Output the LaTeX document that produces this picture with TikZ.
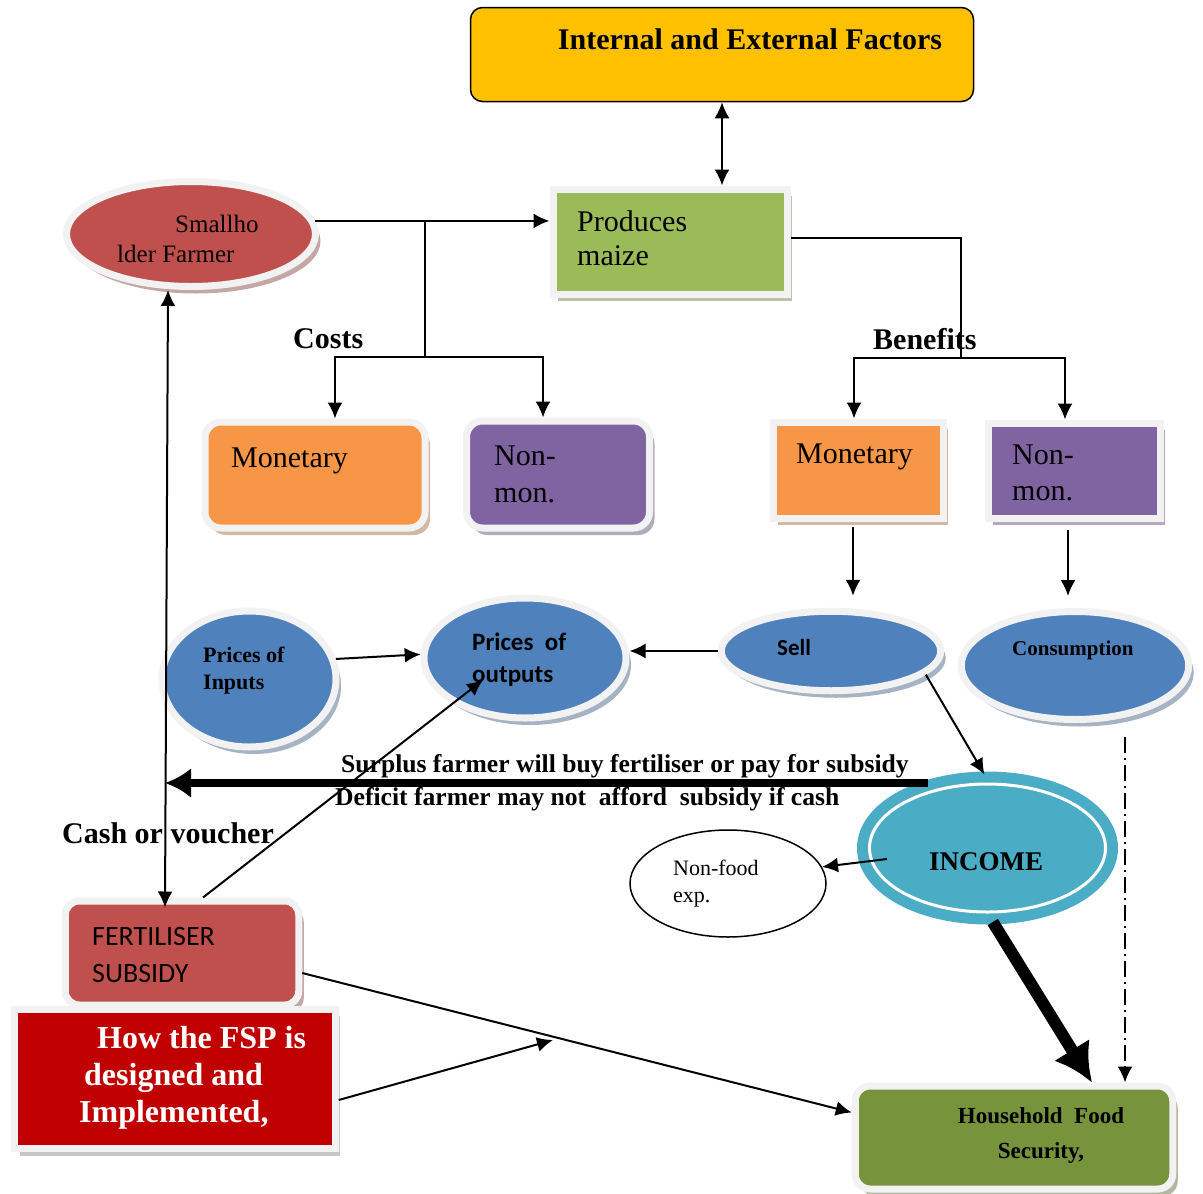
\documentclass[tikz,border=0pt]{standalone}
\usepackage{fontspec}
\setmainfont{Liberation Serif}
\newfontfamily\calfont{Carlito}
\usetikzlibrary{arrows.meta,shapes.geometric,shadows}

\definecolor{gold}{HTML}{FFC000}
\definecolor{leaf}{HTML}{9BBB59}
\definecolor{brick}{HTML}{C0504D}
\definecolor{peach}{HTML}{F79646}
\definecolor{plum}{HTML}{8064A2}
\definecolor{steel}{HTML}{4F81BD}
\definecolor{aqua}{HTML}{4BACC6}
\definecolor{moss}{HTML}{77933C}
\definecolor{crimson}{HTML}{C00000}
\definecolor{frame}{HTML}{F2F2F2}

\tikzset{
  boxed/.style={draw=frame, line width=7pt,
    drop shadow={shadow xshift=5pt, shadow yshift=-7pt, fill=#1, opacity=1}},
  box/.style={fill=#1, boxed=#1!45!gray!60!white},
  oval/.style={ellipse, box=#1},
  txt/.style={inner sep=0pt, align=left, anchor=base west},
  link/.style={line width=2pt},
  heavy/.style={line width=8pt, -{Latex[length=26pt,width=30pt]}},
  >={Latex[length=16pt,width=15pt]}
}

\begin{document}
\begin{tikzpicture}[x=1pt,y=-1pt]
\useasboundingbox (0,0) rectangle (1203,1194);

% Top
\node[draw, line width=1.5pt, rounded corners=12pt, fill=gold,
  minimum width=503, minimum height=94] (ief) at (722,54.5) {};
\node[txt, anchor=base, font=\bfseries\fontsize{30}{36}\selectfont]
  (ief-t) at (750,49) {Internal and External Factors};

\node[box=leaf, minimum width=234, minimum height=105] (maize) at (670,241.5) {};
\node[txt, font=\fontsize{30}{34}\selectfont]
  (maize-t) at (577,265) {Produces\\maize};

\node[oval=brick, minimum width=249, minimum height=105] (farmer) at (191,234) {};
\node[txt, font=\fontsize{25}{30}\selectfont]
  (farmer-t) at (117,262) {\hspace*{58pt}Smallho\\lder Farmer};

% Costs and benefits
\node[txt, font=\bfseries\fontsize{30}{36}\selectfont] (costs) at (293,348) {Costs};
\node[txt, font=\bfseries\fontsize{30}{36}\selectfont] (benefits) at (873,349) {Benefits};

\node[box=peach, rounded corners=16pt, minimum width=220, minimum height=106] (cmon) at (315,475) {};
\node[txt, font=\fontsize{30}{36}\selectfont] (cmon-t) at (231,467) {Monetary};

\node[box=plum, rounded corners=16pt, minimum width=183, minimum height=107] (cnon) at (558,474.5) {};
\node[txt, font=\fontsize{30}{37}\selectfont] (cnon-t) at (494,502) {Non-\\mon.};

\node[box=peach, minimum width=170, minimum height=96] (bmon) at (858,470) {};
\node[txt, font=\fontsize{30}{36}\selectfont] (bmon-t) at (796,463) {Monetary};

\node[box=plum, minimum width=172, minimum height=95] (bnon) at (1074,470.5) {};
\node[txt, font=\fontsize{30}{36}\selectfont] (bnon-t) at (1012,500) {Non-\\mon.};

% Prices, sell, consumption
\node[oval=steel, minimum width=174, minimum height=136] (pin) at (249,679) {};
\node[txt, font=\bfseries\fontsize{22}{27}\selectfont] (pin-t) at (203,689) {Prices of\\Inputs};

\node[oval=steel, minimum width=202, minimum height=120] (pout) at (525,658) {};
\node[txt, font=\calfont\bfseries\fontsize{25}{32}\selectfont] (pout-t) at (472,682) {Prices\ \ of\\outputs};

\node[oval=steel, minimum width=219.5, minimum height=79.5] (sell) at (831,651) {};
\node[txt, font=\calfont\bfseries\fontsize{23}{28}\selectfont] (sell-t) at (777,655) {Sell};

\node[oval=steel, minimum width=227.5, minimum height=108] (cons) at (1075,665.5) {};
\node[txt, font=\bfseries\fontsize{21}{26}\selectfont] (cons-t) at (1012,655) {Consumption};

% Income
\node[ellipse, fill=aqua, draw=white, line width=3pt, minimum width=236, minimum height=128,
  preaction={draw=aqua, line width=25pt}] (inc) at (987.5,848) {};
\node[txt, font=\bfseries\fontsize{27}{32}\selectfont] (inc-t) at (929,870) {INCOME};

\node[ellipse, draw, line width=1.5pt, minimum width=196, minimum height=107] (nf) at (728,883.5) {};
\node[txt, font=\fontsize{22}{27}\selectfont] (nf-t) at (673,902) {Non-food\\exp.};

% Subsidy
\node[box=brick, rounded corners=14pt, minimum width=233.5, minimum height=104] (fert) at (182,953) {};
\node[txt, font=\calfont\fontsize{28}{37}\selectfont] (fert-t) at (92,982) {FERTILISER\\SUBSIDY};

\node[fill=crimson, boxed=black!22, minimum width=320.5, minimum height=139.5] (fsp) at (175,1079) {};
\node[txt, text=white, font=\bfseries\fontsize{32}{37}\selectfont]
  (fsp-t) at (79,1122) {\hspace*{18pt}How the FSP is\\\hspace*{5pt}designed and\\Implemented,};

\node[box=moss, rounded corners=15pt, minimum width=317.5, minimum height=103] (hfs) at (1014,1137.5) {};
\node[txt, anchor=base, align=center, font=\bfseries\fontsize{23}{35}\selectfont]
  (hfs-t) at (1041,1158) {Household\ \ Food\\Security,};

% Links
\draw[link,<->] (ief.south) -- (ief.south |- maize.north);

\draw[link,->] (farmer.6) -- (farmer.6 -| maize.west);

\coordinate (csplit) at (425,0 |- farmer.6);
\coordinate (cbar) at (425,357);
\draw[link] (csplit) -- (cbar);
\draw[link,->] (cbar) -| ([xshift=20]cmon.north);
\draw[link,->] (cbar) -| ([xshift=-15]cnon.north);

\coordinate (bbar) at (961,358);
\draw[link] ([yshift=4]maize.east) -| (bbar);
\draw[link,->] (bbar) -| ([xshift=-4]bmon.north);
\draw[link,->] (bbar) -| ([xshift=-9]bnon.north);

\draw[link,->,shorten <=5pt,shorten >=12pt]
  ([xshift=-5]bmon.south) -- ([xshift=-5]bmon.south |- sell.north);
\draw[link,->,shorten <=8pt,shorten >=12pt]
  ([xshift=-6]bnon.south) -- ([xshift=-6]bnon.south |- cons.north);

\draw[link,->] (sell.west) -- (sell.west -| pout.east);
\draw[link,->] (pin.13) -- (pout.178);
\draw[link,->] (sell.-14) -- ([xshift=-3,yshift=8]inc.north);

% Farmer and subsidy
\coordinate (sptop) at ([xshift=-23]farmer.south);
\coordinate (spbot) at ([xshift=-17,yshift=-10]fert.north);
\draw[link,<->] (sptop) -- (spbot);

\coordinate (cashfrom) at ([xshift=-60,yshift=65]inc.center);
\draw[heavy] (cashfrom) -- (cashfrom -| spbot);
\node[txt, font=\bfseries\fontsize{25.6}{30}\selectfont]
  (surplus) at (341,772) {Surplus farmer will buy fertiliser or pay for subsidy};
\node[txt, font=\bfseries\fontsize{25.6}{30}\selectfont]
  (deficit) at (335,805) {Deficit farmer may not\ \ afford\ \ subsidy if cash};
\node[txt, font=\bfseries\fontsize{30}{36}\selectfont] (cash) at (62,843) {Cash or voucher};

\draw[link,->] ([xshift=21]fert.north) -- ([xshift=-42,yshift=-22]pout.center);
\draw[link,->] ([yshift=-20]fert.east) -- ([yshift=25]hfs.west);

\coordinate (fspto) at (553,1040);
\draw[link,->] ([yshift=-21]fsp.east) -- (fspto);

% Income use
\draw[link,->] ([xshift=19,yshift=-11]inc.west) -- (nf.10);
\draw[line width=12pt, -{Latex[length=38pt,width=42pt]}, shorten <=10pt]
  (inc.south) -- ([xshift=78]hfs.north);
\draw[link,->,dash pattern=on 16pt off 5pt on 2pt off 5pt,shorten <=14pt]
  ([xshift=50]cons.south) -- ([xshift=50]cons.south |- hfs.north);

\end{tikzpicture}
\end{document}
